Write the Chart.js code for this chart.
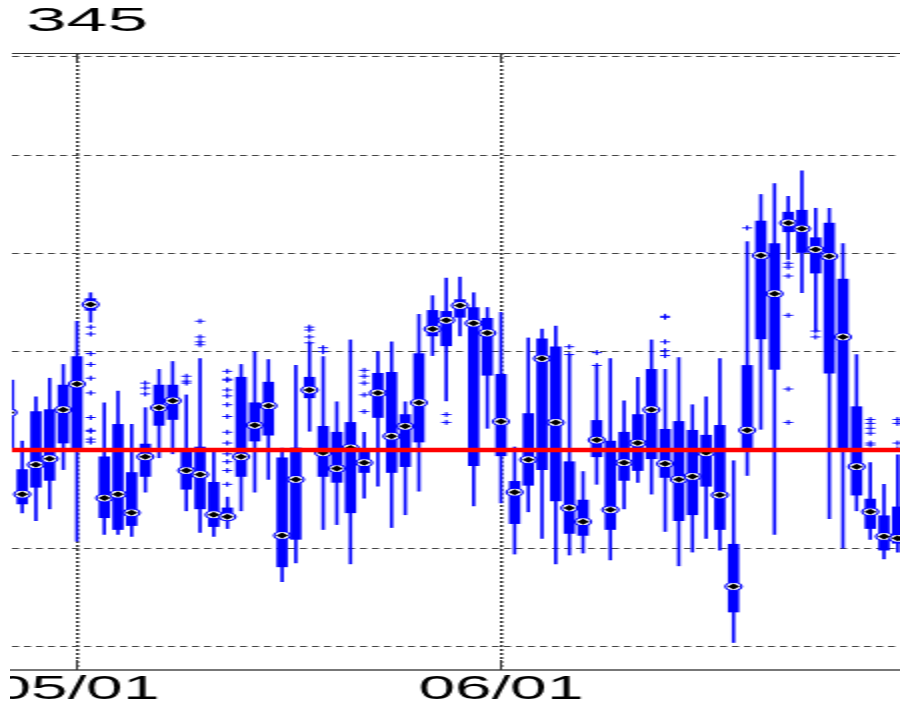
<!DOCTYPE html>
<html>
<head>
<meta charset="utf-8">
<title>345</title>
<script src="https://cdn.jsdelivr.net/npm/chart.js@4.4.1/dist/chart.umd.min.js"></script>
<style>
    html, body { margin: 0; padding: 0; background: #fff; overflow: hidden; }
    #wrap { position: absolute; left: 10px; top: 0; width: 445px; height: 709px; transform: scaleX(2); transform-origin: 0 0; }
</style>
</head>
<body>
<div id="wrap"><canvas id="grafico" width="445" height="709"></canvas></div>
<script>
const titleText = '345';

// day offsets from 05/01 (0 = 05/01, 31 = 06/01)
const days = [-5, -4, -3, -2, -1, 0, 1, 2, 3, 4, 5, 6, 7, 8, 9, 10, 11, 12, 13, 14, 15,
    16, 17, 18, 19, 20, 21, 22, 23, 24, 25, 26, 27, 28, 29, 30, 31, 32, 33, 34, 35,
    36, 37, 38, 39, 40, 41, 42, 43, 44, 45, 46, 47, 48, 49, 50, 51, 52, 53, 54, 55,
    56, 57, 58, 59, 60];

const whiskerHigh = [7.1, 0.9, 5.4, 7.3, 8.7, 13.1, 16.0, 4.8, 6.0, 2.6, 4.3, 8.2, 9.0, 5.6, 9.3, -0.2,
    -4.8, 8.7, 10.0, 9.2, 0.2, 8.6, 10.9, 9.5, 4.9, 11.2, 1.8, 10.0, 11.0, 4.9, 13.8, 15.7,
    17.5, 17.6, 16.0, 14.5, 14.0, 0.3, 11.4, 12.3, 12.6, 9.7, -2.2, 8.6, 9.3, 5.0, 7.4, 11.2,
    8.2, 9.4, 4.6, 5.4, 9.3, -1.1, 21.2, 26.0, 27.1, 25.8, 28.4, 24.6, 24.6, 21.0, 9.7, -1.3,
    -3.5, -0.5];
const boxHigh = [7.1, -2.0, 3.9, 4.1, 6.6, 9.5, 15.4, -0.7, 2.6, -2.3, 0.6, 6.6, 6.6, -0.2, 0.3, -3.3,
    -5.9, 7.4, 4.8, 6.9, -0.8, 0.2, 7.4, 2.4, 1.8, 2.8, -0.2, 7.8, 7.9, 3.6, 9.8, 14.2,
    14.1, 15.3, 14.5, 13.4, 7.7, -3.2, 3.7, 11.3, 10.5, -1.2, -5.1, 3.0, 0.9, 1.8, 3.6, 8.2,
    2.1, 2.9, 2.0, 1.5, 2.5, -9.6, 8.6, 23.3, 21.0, 24.2, 24.4, 21.6, 23.1, 17.4, 4.4, -5.0,
    -6.7, -5.8];
const medians = [3.8, -4.5, -1.5, -0.9, 4.1, 6.7, 14.8, -4.9, -4.5, -6.4, -0.7, 4.3, 5.0, -2.1, -2.5, -6.6,
    -6.8, -0.7, 2.5, 4.5, -8.7, -3.0, 6.1, -0.3, -1.9, 0.2, -1.3, 5.8, 1.4, 2.4, 4.8, 12.3,
    13.2, 14.7, 12.9, 11.9, 2.9, -4.3, -1.0, 9.3, 2.8, -5.9, -7.3, 1.0, -6.1, -1.3, 0.7, 4.1,
    -1.4, -3.0, -2.7, -0.3, -4.6, -13.9, 2.0, 19.8, 15.9, 23.1, 22.5, 20.4, 19.7, 11.5, -1.7, -6.3,
    -8.8, -9.0];
const boxLow = [0.1, -5.5, -3.8, -3.1, 0.7, 0.0, 14.2, -6.9, -8.1, -7.7, -2.7, 2.5, 3.1, -4.0, -6.0, -7.8,
    -7.0, -2.7, 0.9, 1.5, -11.9, -9.1, 5.3, -2.7, -3.3, -6.4, -2.3, 3.3, -2.3, -1.7, 0.8, 11.6,
    10.6, 13.5, -1.6, 7.6, -0.6, -7.5, -3.6, -2.0, -5.2, -8.5, -8.7, -0.7, -8.1, -3.1, -2.1, -0.9,
    -2.8, -7.2, -6.6, -3.7, -8.1, -16.5, 0.2, 11.3, 8.2, 22.2, 20.1, 18.0, 7.8, 0.2, -4.6, -8.0,
    -10.2, -9.5];
const whiskerLow = [0.1, -6.4, -7.2, -6.0, -2.0, -9.3, 13.0, -8.6, -8.6, -8.8, -4.3, -0.8, -0.4, -6.2, -8.4, -8.8,
    -8.0, -6.2, -4.3, -3.0, -13.4, -11.5, 1.9, -8.1, -7.6, -11.6, -4.9, -3.7, -7.9, -6.6, -4.2, 9.6,
    5.0, 11.6, -5.7, 2.2, -5.4, -10.6, -6.3, -9.0, -11.6, -10.7, -10.5, -3.5, -11.2, -6.0, -3.3, -4.5,
    -8.3, -11.8, -10.4, -9.0, -10.2, -19.6, -2.6, 2.1, -8.6, 19.4, 16.0, 12.1, -7.0, -10.0, -6.2, -9.1,
    -11.1, -10.4];

// [day, value]
const outliers = [
    [1, 12.5], [1, 11.8], [1, 9.8], [1, 8.7], [1, 7.3], [1, 5.8], [1, 3.3], [1, 2.0], [1, 1.9], [1, 1.1], [1, 0.8],
    [5, 6.8], [5, 6.3], [5, 5.7],
    [8, 7.5], [8, 7.0], [8, 6.8],
    [9, 13.1], [9, 11.5], [9, 11.0], [9, 10.7],
    [11, 8.0], [11, 7.2], [11, 7.1], [11, 6.1], [11, 5.5], [11, 4.6], [11, 3.4], [11, 1.8], [11, 0.7],
    [11, -0.4], [11, -1.2], [11, -2.1], [11, -3.5],
    [17, 12.5], [17, 12.2], [17, 11.5], [17, 10.9],
    [18, 10.4], [18, 10.0],
    [21, 8.1], [21, 7.5], [21, 6.8], [21, 5.6], [21, 3.9],
    [27, 3.6], [27, 2.8],
    [36, 10.5], [36, 9.7],
    [38, 9.9], [38, 8.6],
    [43, 13.6], [43, 13.5], [43, 11.0], [43, 10.1], [43, 9.6],
    [49, 22.6],
    [52, 19.0], [52, 18.6], [52, 17.7], [52, 13.7], [52, 6.2], [52, 2.8],
    [54, 12.1], [54, 11.5],
    [58, 3.1], [58, 2.7], [58, 2.2], [58, 1.7], [58, 0.7], [58, 0.5],
    [60, 3.1], [60, 2.7], [60, 0.7], [60, 0.1]
];

const referenceLevel = 0;
const xTickValues = [0, 31];
const xTickLabels = ['05/01', '06/01'];
const yGridValues = [-20, -10, 0, 10, 20, 30, 40];
const xMin = -4.75, xMax = 60.17;
const yMin = -22.4, yMax = 40.4;

document.addEventListener("DOMContentLoaded", function() {
    const ctx = document.getElementById('grafico').getContext('2d');
    const blue = '#0000ff';
    const fontFamily = '"Liberation Sans", Arial, sans-serif';

    const extras = {
        id: 'extras',
        afterDraw(chart) {
            const c = chart.ctx;
            const a = chart.chartArea;
            const x = chart.scales.x;
            c.save();
            c.strokeStyle = '#333';
            c.lineWidth = 1;
            c.beginPath();
            c.moveTo(a.left, a.top + 0.5);
            c.lineTo(a.right, a.top + 0.5);
            c.stroke();
            // short inward tick marks
            xTickValues.forEach(v => {
                const px = x.getPixelForValue(v);
                c.beginPath();
                c.moveTo(px, a.top);
                c.lineTo(px, a.top + 10);
                c.moveTo(px, a.bottom);
                c.lineTo(px, a.bottom - 10);
                c.stroke();
            });
            // title, a bit wider like the original
            c.fillStyle = '#000';
            c.font = '33px ' + fontFamily;
            c.textBaseline = 'alphabetic';
            c.textAlign = 'left';
            c.translate(8, 31);
            c.scale(1.11, 1);
            c.fillText(titleText, 0, 0);
            c.restore();
        }
    };

    new Chart(ctx, {
        type: 'bar',
        data: {
            datasets: [
                {
                    type: 'line',
                    data: [{x: xMin - 2, y: referenceLevel}, {x: xMax + 2, y: referenceLevel}],
                    borderColor: '#ff0000',
                    borderWidth: 4.5,
                    pointRadius: 0,
                    clip: 0,
                    order: 0
                },
                {
                    type: 'scatter',
                    data: outliers.map(o => ({x: o[0], y: o[1]})),
                    pointStyle: 'cross',
                    pointRadius: 2.5,
                    borderColor: blue,
                    borderWidth: 1,
                    clip: 0,
                    order: 1
                },
                {
                    type: 'scatter',
                    data: days.map((d, i) => ({x: d, y: medians[i]})),
                    pointStyle: 'rectRot',
                    pointRadius: 3,
                    backgroundColor: '#000',
                    borderWidth: 0,
                    clip: 0,
                    order: 2
                },
                {
                    type: 'scatter',
                    data: days.map((d, i) => ({x: d, y: medians[i]})),
                    pointStyle: 'circle',
                    pointRadius: 4,
                    backgroundColor: '#fff',
                    borderColor: blue,
                    borderWidth: 1.2,
                    clip: 0,
                    order: 3
                },
                {
                    data: days.map((d, i) => ({x: d, y: [boxLow[i], boxHigh[i]]})),
                    backgroundColor: blue,
                    borderWidth: 0,
                    barThickness: 5,
                    grouped: false,
                    clip: 0,
                    order: 4
                },
                {
                    data: days.map((d, i) => ({x: d, y: [whiskerLow[i], whiskerHigh[i]]})),
                    backgroundColor: blue,
                    borderWidth: 0,
                    barThickness: 1,
                    grouped: false,
                    clip: 0,
                    order: 5
                }
            ]
        },
        options: {
            responsive: false,
            animation: false,
            events: [],
            layout: { autoPadding: false, padding: { left: 1, top: 53, right: 0, bottom: 0 } },
            plugins: { legend: { display: false }, tooltip: { enabled: false }, title: { display: false } },
            scales: {
                x: {
                    type: 'linear',
                    min: xMin,
                    max: xMax,
                    offset: false,
                    afterBuildTicks: s => { s.ticks = xTickValues.map(v => ({value: v})); },
                    afterFit: s => { s.height = 39; s.paddingLeft = 0; s.paddingRight = 0; },
                    ticks: {
                        autoSkip: false,
                        maxRotation: 0,
                        padding: 0,
                        color: '#000',
                        font: { size: 33, family: fontFamily },
                        callback: (v, i) => xTickLabels[i]
                    },
                    grid: { offset: false, color: '#333', lineWidth: 1.5, drawTicks: false },
                    border: { display: true, color: '#777', width: 2, dash: [2, 2] }
                },
                y: {
                    type: 'linear',
                    min: yMin,
                    max: yMax,
                    afterBuildTicks: s => { s.ticks = yGridValues.map(v => ({value: v})); },
                    afterFit: s => { s.width = 0; },
                    ticks: { display: false },
                    grid: { color: '#444', lineWidth: 1, drawTicks: false },
                    border: { display: false, dash: [3.5, 2.5] }
                }
            }
        },
        plugins: [extras]
    });
});
</script>
</body>
</html>
